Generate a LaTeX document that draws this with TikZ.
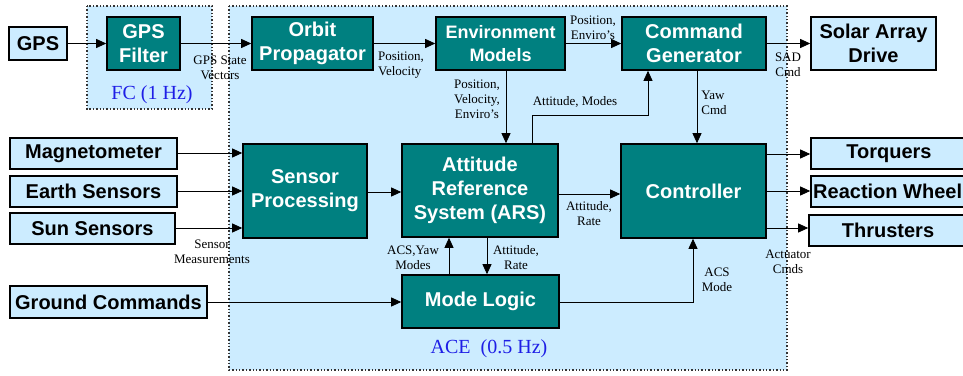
\documentclass[tikz,border=0pt]{standalone}
\usepackage{fontspec}
\setmainfont{Liberation Serif}
\newfontfamily\boxfont{Liberation Sans}
\usetikzlibrary{arrows.meta}
\definecolor{teal1}{RGB}{0,128,128}
\definecolor{lblue}{RGB}{204,236,255}
\definecolor{hzblue}{RGB}{30,30,230}
\tikzset{
  region/.style={draw=black!80, line width=1.4pt, dotted, fill=lblue},
  tealbox/.style={draw=black, line width=1.6pt, fill=teal1, text=white, inner sep=0pt, align=center,
     font=\boxfont\bfseries\fontsize{20}{24}\selectfont},
  lightbox/.style={draw=black, line width=1.6pt, fill=lblue, text=black, inner sep=0pt, align=center,
     font=\boxfont\bfseries\fontsize{20}{24}\selectfont},
  lbl/.style={font=\fontsize{13}{15}\selectfont, align=center, inner sep=0pt},
  hz/.style={font=\fontsize{20}{24}\selectfont, text=hzblue, inner sep=0pt},
  arr/.style={draw=black, line width=0.8pt, -{Triangle[length=10pt,width=9pt]}},
}
\begin{document}
\begin{tikzpicture}[x=1pt,y=-1pt]
\useasboundingbox (0,0) rectangle (963,375);
% regions
\draw[region] (87,6) rectangle (212,109);
\draw[region] (229,6) rectangle (787,370);
\node[hz] (fclbl) at (152,95) {FC (1 Hz)};
\node[hz] (acelbl) at (489,349) {ACE\ \ (0.5 Hz)};
% boxes
\node[lightbox, minimum width=58pt, minimum height=33pt] (gps) at (38,43.5) {GPS};
\node[tealbox, minimum width=73pt, minimum height=53pt] (gpsf) at (143.5,43.5) {GPS\\Filter};
\node[tealbox, minimum width=121pt, minimum height=53pt] (orbit) at (312.5,43.5) {Orbit\\Propagator};
\node[tealbox, minimum width=129pt, minimum height=53pt, font=\boxfont\bfseries\fontsize{18}{23}\selectfont] (env) at (500.5,43.5) {Environment\\Models};
\node[tealbox, minimum width=144pt, minimum height=53pt] (cmd) at (694,43.5) {Command\\Generator};
\node[lightbox, minimum width=125pt, minimum height=53pt] (sad) at (873.5,43.5) {Solar Array\\Drive};
\node[lightbox, minimum width=167pt, minimum height=31pt] (mag) at (93.5,153.5) {Magnetometer};
\node[lightbox, minimum width=167pt, minimum height=31pt] (earth) at (93.5,191.5) {Earth Sensors};
\node[lightbox, minimum width=165pt, minimum height=31pt] (sun) at (92.5,228.5) {Sun Sensors};
\node[tealbox, minimum width=124pt, minimum height=94pt] (sp) at (305,191) {Sensor\\Processing};
\node[tealbox, minimum width=156pt, minimum height=93pt] (ars) at (480,190.5) {Attitude\\Reference\\System (ARS)};
\node[tealbox, minimum width=145pt, minimum height=94pt] (ctrl) at (693.5,191) {Controller};
\node[lightbox, minimum width=156pt, minimum height=31pt] (torq) at (889,153.5) {Torquers};
\node[lightbox, minimum width=156pt, minimum height=31pt] (rw) at (889,191.5) {};
\node[anchor=west, inner sep=0pt, font=\boxfont\bfseries\fontsize{20}{24}\selectfont] (rwtext) at (813,191.5) {Reaction Wheel};
\node[lightbox, minimum width=158pt, minimum height=31pt] (thr) at (888,230.5) {Thrusters};
\node[lightbox, minimum width=197pt, minimum height=32pt] (ground) at (108.5,302) {Ground Commands};
\node[tealbox, minimum width=157pt, minimum height=53pt] (mode) at (480.5,301.5) {Mode Logic};
% connectors
\draw[arr] (gps) -- (gpsf);
\draw[arr] (gpsf) -- (orbit);
\draw[arr] (orbit) -- (env);
\draw[arr] (env) -- (cmd);
\draw[arr] (cmd) -- (sad);
\draw[arr] (env.south -| 506,0) -- (ars.north -| 506,0);
\coordinate (am1) at (532,115);
\coordinate (am2) at (648,115);
\draw[arr] (ars.north -| am1) -- (am1) -- (am2) -- (cmd.south -| am2);
\draw[arr] (cmd.south -| 697,0) -- (ctrl.north -| 697,0);
\draw[arr] (mag.east |- 0,153) -- (sp.west |- 0,153);
\draw[arr] (earth.east |- 0,191) -- (sp.west |- 0,191);
\draw[arr] (sun.east |- 0,228) -- (sp.west |- 0,228);
\draw[arr] (sp.east |- 0,192) -- (ars.west |- 0,192);
\draw[arr] (ars.east |- 0,194) -- (ctrl.west |- 0,194);
\draw[arr] (ctrl.east |- 0,154) -- (torq.west |- 0,154);
\draw[arr] (ctrl.east |- 0,191) -- (rw.west |- 0,191);
\draw[arr] (ctrl.east |- 0,228) -- (thr.west |- 0,228);
\draw[arr] (ars.south -| 487,0) -- (mode.north -| 487,0);
\draw[arr] (mode.north -| 449,0) -- (ars.south -| 449,0);
\draw[arr] (ground) -- (mode.west |- 0,302);
\coordinate (ml) at (693,302);
\draw[arr] (mode.east |- ml) -- (ml) -- (ctrl.south -| ml);
% labels
\node[lbl] (l1) at (220,67.5) {GPS State\\Vectors};
\node[lbl, align=left] (l2) at (401,65) {Position,\\Velocity};
\node[lbl] (l3) at (593,28) {Position,\\Enviro's};
\node[lbl] (l4) at (477,99.5) {Position,\\Velocity,\\Enviro's};
\node[lbl] (l5) at (575,102) {Attitude, Modes};
\node[lbl, align=left] (l6) at (714,102.5) {Yaw\\Cmd};
\node[lbl] (l7) at (788,65) {SAD\\Cmd};
\node[lbl] (l8) at (212,252) {Sensor\\Measurements};
\node[lbl] (l9) at (413,258) {ACS,Yaw\\Modes};
\node[lbl] (l10) at (516,257.5) {Attitude,\\Rate};
\node[lbl] (l11) at (589,214) {Attitude,\\Rate};
\node[lbl] (l12) at (788,261.5) {Actuator\\Cmds};
\node[lbl] (l13) at (717,279.5) {ACS\\Mode};
\end{tikzpicture}
\end{document}
